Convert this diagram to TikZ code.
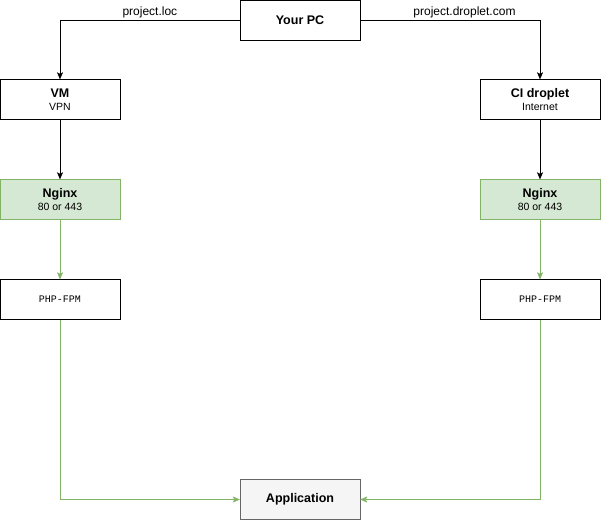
\documentclass[tikz,border=0pt]{standalone}
\usepackage{fontspec}
\setmainfont{Liberation Sans}
\setmonofont{Liberation Mono}
\usetikzlibrary{arrows.meta}
\definecolor{webfill}{HTML}{D5E8D4}
\definecolor{webline}{HTML}{82B366}
\definecolor{appfill}{HTML}{F5F5F5}
\definecolor{appline}{HTML}{666666}
\newcommand{\sub}[1]{{\fontsize{10.5}{11}\selectfont\mdseries #1}}

\begin{document}
\begin{tikzpicture}[x=1pt, y=-1pt,
		box/.style={draw, fill=white, minimum width=120pt, minimum height=40pt, inner sep=0pt, align=center, font=\fontsize{12.5}{14}\selectfont\bfseries},
		web/.style={box, draw=webline, fill=webfill},
		app/.style={box, draw=appline, fill=appfill},
		lbl/.style={font=\fontsize{12}{13}\selectfont, inner sep=2pt},
		>={Stealth[length=7pt, width=6pt, inset=1.5pt]}]
				\useasboundingbox (0,0) rectangle (601,520);
				\node [box] (pc) at (300,20) {Your PC};
				\node [box] (vm) at (60,99.5) {VM\\[-1pt]\sub{VPN}};
				\node [box] (ci) at (540,99.5) {CI droplet\\[-1pt]\sub{Internet}};
				\node [web] (ngl) at (60,199.5) {Nginx\\[-1pt]\sub{80 or 443}};
				\node [web] (ngr) at (540,199.5) {Nginx\\[-1pt]\sub{80 or 443}};
				\node [box, font=\fontsize{10}{11}\ttfamily] (phpl) at (60,299.5) {PHP-FPM};
				\node [box, font=\fontsize{10}{11}\ttfamily] (phpr) at (540,299.5) {PHP-FPM};
				\node [app] (app) at (300,499.5) {Application};
				\draw [->] (pc.west) -| node [pos=.25, above, lbl] {project.loc} (vm);
				\draw [->] (pc.east) -| node [pos=.29, above, lbl] {project.droplet.com} (ci);
				\draw [->] (vm) -- (ngl);
				\draw [->] (ci) -- (ngr);
				\draw [->, webline] (ngl) -- (phpl);
				\draw [->, webline] (ngr) -- (phpr);
				\draw [->, webline] (phpl) |- (app);
				\draw [->, webline] (phpr) |- (app);
			\end{tikzpicture}
\end{document}
